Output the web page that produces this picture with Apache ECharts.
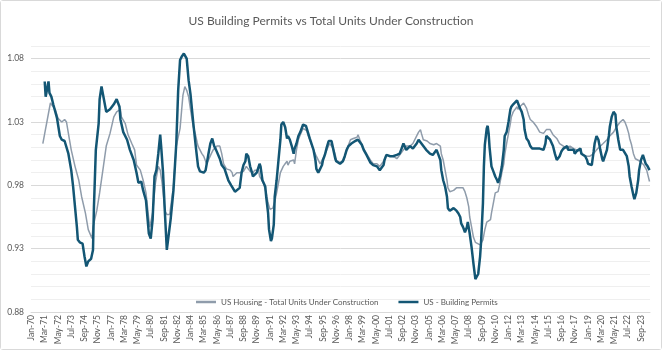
<!DOCTYPE html>
<html>
<head>
<meta charset="utf-8">
<script src="https://cdn.jsdelivr.net/npm/echarts@6/dist/echarts.min.js"></script>
<style>
  html, body { margin: 0; padding: 0; background: #fff; }
  #chart { width: 662px; height: 350px; box-sizing: border-box; border: 1px solid #d9d9d9; border-radius: 3px; }
</style>
</head>
<body>
<div id="chart"></div>
<script>
// monthly categories Jan-70 .. Jun-24
const monthNames = ['Jan', 'Feb', 'Mar', 'Apr', 'May', 'Jun', 'Jul', 'Aug', 'Sep', 'Oct', 'Nov', 'Dec'];
const firstYear = 1970;
const monthCount = 654;
const categories = [];
for (let i = 0; i < monthCount; i++) {
  const y = firstYear + Math.floor(i / 12);
  categories.push(monthNames[i % 12] + '-' + String(y % 100).padStart(2, '0'));
}

// [months since Jan-70, ratio]
const permits = [
  [14, 1.062], [15, 1.050], [16, 1.051], [18, 1.062], [19, 1.053], [21, 1.050], [23, 1.044], [27, 1.033],
  [30, 1.019], [32, 1.016], [35, 1.015], [39, 1.005], [42, 0.992], [44, 0.979], [46, 0.963], [48, 0.947],
  [49, 0.937], [51, 0.935], [54, 0.934], [56, 0.924], [58, 0.916], [60, 0.920], [63, 0.922], [65, 0.929],
  [66, 0.963], [68, 1.008], [71, 1.029], [72, 1.048], [74, 1.058], [76, 1.057], [78, 1.042], [79, 1.038],
  [83, 1.040], [87, 1.044], [90, 1.048], [92, 1.049], [93, 1.042], [94, 1.032], [97, 1.022], [101, 1.016],
  [104, 1.008], [108, 1.000], [111, 0.990], [113, 0.982], [116, 0.983], [118, 0.976], [121, 0.968], [124, 0.942],
  [126, 0.938], [128, 0.953], [130, 0.987], [132, 0.992], [134, 1.005], [136, 1.020], [137, 1.011], [139, 0.990],
  [141, 0.958], [143, 0.929], [145, 0.929], [147, 0.953], [150, 0.976], [153, 1.013], [155, 1.055], [157, 1.079],
  [159, 1.082], [161, 1.084], [164, 1.080], [166, 1.063], [168, 1.052], [171, 1.029], [174, 1.008], [176, 0.995],
  [178, 0.991], [182, 0.990], [184, 0.992], [187, 1.005], [189, 1.013], [191, 1.017], [193, 1.011], [195, 1.008],
  [197, 1.007], [199, 1.001], [201, 0.996], [204, 0.993], [208, 0.984], [211, 0.980], [215, 0.975], [217, 0.974],
  [220, 0.978], [222, 0.990], [224, 0.996], [226, 0.999], [227, 1.005], [229, 1.003], [231, 0.995], [233, 0.990],
  [234, 0.987], [236, 0.988], [238, 0.990], [241, 0.997], [242, 0.995], [244, 0.984], [247, 0.979], [248, 0.971],
  [250, 0.958], [251, 0.945], [253, 0.936], [254, 0.938], [256, 0.949], [257, 0.971], [259, 0.984], [261, 1.000],
  [263, 1.016], [264, 1.028], [266, 1.030], [268, 1.026], [270, 1.017], [271, 1.019], [273, 1.016], [275, 1.011],
  [277, 1.005], [278, 1.009], [280, 1.013], [282, 1.019], [284, 1.022], [287, 1.028], [290, 1.027], [292, 1.026],
  [294, 1.017], [298, 1.008], [300, 1.000], [301, 0.993], [303, 0.990], [305, 0.993], [307, 0.996], [308, 1.000],
  [310, 1.004], [312, 1.010], [314, 1.015], [315, 1.016], [317, 1.015], [319, 1.008], [321, 1.001], [322, 0.999],
  [326, 0.997], [329, 0.999], [331, 1.003], [333, 1.008], [335, 1.011], [338, 1.013], [342, 1.015], [345, 1.016],
  [347, 1.015], [349, 1.012], [351, 1.008], [354, 1.004], [358, 0.998], [361, 0.996], [365, 0.995], [368, 0.992],
  [370, 0.993], [372, 0.996], [373, 1.000], [375, 1.004], [377, 1.005], [379, 1.003], [382, 1.003], [386, 1.004],
  [389, 1.005], [391, 1.009], [393, 1.013], [395, 1.012], [396, 1.008], [398, 1.009], [400, 1.011], [402, 1.012],
  [403, 1.009], [405, 1.011], [407, 1.013], [409, 1.016], [410, 1.015], [412, 1.013], [414, 1.011], [417, 1.008],
  [421, 1.005], [424, 1.004], [426, 1.005], [428, 1.008], [430, 1.004], [432, 1.000], [433, 0.992], [435, 0.984],
  [437, 0.979], [439, 0.971], [440, 0.962], [442, 0.960], [444, 0.960], [446, 0.962], [447, 0.962], [449, 0.960],
  [451, 0.958], [453, 0.955], [454, 0.950], [456, 0.947], [458, 0.943], [460, 0.947], [461, 0.951], [463, 0.942],
  [465, 0.931], [467, 0.918], [469, 0.906], [470, 0.906], [472, 0.910], [474, 0.924], [475, 0.935], [477, 0.966],
  [478, 0.995], [479, 1.012], [481, 1.025], [482, 1.027], [483, 1.021], [484, 1.010], [486, 0.995], [488, 0.991],
  [490, 0.987], [492, 0.984], [493, 0.982], [495, 0.987], [497, 0.995], [499, 1.008], [500, 1.019], [502, 1.022],
  [504, 1.030], [506, 1.040], [507, 1.042], [509, 1.044], [511, 1.045], [513, 1.047], [514, 1.045], [516, 1.041],
  [518, 1.038], [520, 1.032], [521, 1.024], [523, 1.017], [525, 1.015], [527, 1.011], [529, 1.009], [534, 1.009],
  [537, 1.009], [541, 1.008], [543, 1.013], [544, 1.019], [546, 1.020], [548, 1.016], [550, 1.015], [551, 1.011],
  [553, 1.005], [555, 1.000], [557, 0.999], [558, 1.003], [560, 1.007], [562, 1.009], [566, 1.011], [567, 1.008],
  [573, 1.008], [574, 1.005], [576, 1.007], [580, 1.009], [581, 1.005], [585, 1.003], [587, 1.000], [588, 0.997],
  [592, 0.996], [594, 1.007], [595, 1.013], [597, 1.019], [599, 1.016], [601, 1.008], [603, 1.001], [604, 0.999],
  [606, 1.000], [608, 1.008], [610, 1.019], [611, 1.026], [613, 1.034], [615, 1.038], [617, 1.036], [618, 1.026],
  [620, 1.016], [622, 1.008], [625, 1.008], [627, 1.008], [629, 1.003], [631, 0.995], [632, 0.987], [634, 0.979],
  [636, 0.972], [637, 0.969], [639, 0.974], [641, 0.984], [642, 0.992], [644, 1.000], [646, 1.004], [648, 1.003],
  [649, 0.997], [651, 0.995], [653, 0.992]
];

const underConstruction = [
  [12, 1.013], [13, 1.013], [20, 1.045], [21, 1.046], [25, 1.040], [28, 1.033], [32, 1.030], [35, 1.032],
  [37, 1.030], [39, 1.021], [42, 1.008], [46, 0.995], [50, 0.984], [53, 0.971], [57, 0.958], [60, 0.945],
  [64, 0.938], [65, 0.947], [69, 0.960], [72, 0.974], [76, 0.995], [79, 1.011], [83, 1.021], [87, 1.034],
  [90, 1.038], [94, 1.040], [95, 1.034], [99, 1.029], [102, 1.020], [106, 1.013], [109, 1.008], [111, 0.996],
  [115, 0.992], [118, 0.984], [121, 0.974], [124, 0.953], [125, 0.947], [128, 0.958], [131, 0.982], [134, 0.995],
  [136, 0.992], [138, 0.982], [141, 0.960], [143, 0.957], [146, 0.957], [150, 0.979], [153, 1.011], [157, 1.025],
  [160, 1.051], [162, 1.058], [164, 1.055], [166, 1.050], [168, 1.040], [171, 1.026], [173, 1.021], [175, 1.014],
  [176, 1.011], [178, 1.008], [180, 1.005], [182, 1.003], [185, 0.997], [187, 1.000], [190, 1.005], [192, 1.008],
  [196, 1.011], [199, 1.011], [201, 1.005], [203, 0.997], [206, 0.993], [210, 0.992], [212, 0.990], [213, 0.987],
  [217, 0.990], [220, 0.990], [224, 0.991], [227, 0.995], [231, 0.991], [234, 0.990], [236, 0.992], [240, 0.992],
  [241, 0.987], [245, 0.982], [248, 0.974], [250, 0.966], [252, 0.961], [255, 0.962], [257, 0.967], [259, 0.974],
  [261, 0.982], [263, 0.990], [266, 0.995], [268, 0.997], [270, 0.999], [271, 0.996], [273, 0.999], [277, 1.000],
  [278, 0.997], [280, 1.008], [282, 1.016], [284, 1.020], [287, 1.025], [291, 1.023], [292, 1.020], [294, 1.016],
  [298, 1.008], [301, 1.003], [305, 0.997], [308, 1.001], [312, 1.008], [315, 1.013], [319, 1.009], [321, 1.004],
  [322, 1.000], [326, 0.998], [330, 1.000], [333, 1.008], [337, 1.016], [340, 1.017], [344, 1.018], [345, 1.020],
  [347, 1.016], [351, 1.009], [354, 1.005], [358, 1.000], [361, 0.997], [365, 0.997], [368, 0.995], [372, 0.999],
  [375, 1.004], [379, 1.003], [382, 1.003], [386, 1.001], [389, 1.004], [393, 1.008], [396, 1.011], [400, 1.011],
  [403, 1.013], [407, 1.019], [409, 1.022], [411, 1.024], [412, 1.021], [414, 1.016], [418, 1.015], [421, 1.013],
  [425, 1.012], [428, 1.013], [432, 1.011], [433, 1.005], [435, 1.000], [437, 0.992], [439, 0.984], [440, 0.978],
  [442, 0.975], [446, 0.976], [449, 0.978], [453, 0.978], [456, 0.978], [458, 0.975], [460, 0.970], [462, 0.963],
  [463, 0.955], [465, 0.947], [467, 0.939], [469, 0.935], [470, 0.934], [474, 0.933], [476, 0.934], [477, 0.937],
  [479, 0.945], [481, 0.951], [483, 0.950], [485, 0.953], [486, 0.958], [488, 0.966], [490, 0.974], [493, 0.975],
  [495, 0.982], [497, 0.990], [499, 0.997], [500, 1.004], [502, 1.013], [504, 1.021], [506, 1.029], [507, 1.034],
  [509, 1.038], [513, 1.042], [514, 1.040], [516, 1.042], [520, 1.045], [521, 1.044], [523, 1.041], [525, 1.036],
  [527, 1.032], [530, 1.030], [534, 1.026], [537, 1.022], [541, 1.021], [544, 1.024], [548, 1.024], [551, 1.020],
  [555, 1.017], [558, 1.013], [562, 1.011], [566, 1.009], [569, 1.011], [573, 1.009], [576, 1.008], [580, 1.007],
  [583, 1.004], [587, 1.003], [590, 1.003], [594, 1.005], [597, 1.008], [601, 1.011], [604, 1.013], [608, 1.016],
  [611, 1.019], [615, 1.022], [618, 1.026], [622, 1.030], [625, 1.032], [627, 1.030], [629, 1.026], [631, 1.021],
  [632, 1.017], [634, 1.012], [636, 1.005], [638, 1.001], [639, 1.000], [643, 0.999], [647, 0.996], [650, 0.992],
  [653, 0.983]
];

const yMin = 0.88;
const yMax = 1.09;
const yMajor = 0.05;

const toSeries = (rows) => rows.map(([m, v]) => [categories[m], v]);

const chart = echarts.init(document.getElementById('chart'));
const font = 'Lato, "Noto Sans", sans-serif';

chart.setOption({
  backgroundColor: '#fff',
  animation: false,
  title: {
    text: 'US Building Permits vs Total Units Under Construction',
    left: 'center',
    top: 9,
    textStyle: { fontFamily: font, fontSize: 12, fontWeight: 'normal', color: '#595959' }
  },
  legend: {
    left: 190,
    top: 292,
    icon: 'rect',
    itemWidth: 20,
    itemHeight: 2.5,
    itemGap: 20,
    textStyle: { fontFamily: font, fontSize: 8, color: '#595959' },
    data: ['US Housing - Total Units Under Construction', 'US - Building Permits']
  },
  grid: { left: 30, right: 11, top: 45, bottom: 37 },
  xAxis: {
    type: 'category',
    data: categories,
    boundaryGap: true,
    axisLine: { lineStyle: { color: '#d9d9d9' } },
    axisTick: { show: false },
    axisLabel: {
      interval: 13,
      rotate: 90,
      margin: 3,
      fontFamily: font,
      fontSize: 8.5,
      color: '#595959'
    },
    splitLine: { show: false }
  },
  yAxis: {
    type: 'value',
    min: yMin,
    max: yMax,
    interval: 0.01,
    axisLine: { show: false },
    axisTick: { show: false },
    axisLabel: {
      margin: 7,
      fontFamily: font,
      fontSize: 8.5,
      color: '#595959',
      formatter: (value) => {
        const k = (value - yMin) / yMajor;
        return Math.abs(k - Math.round(k)) < 1e-6 && value < yMax - 0.005 ? value.toFixed(2) : '';
      }
    },
    splitLine: {
      lineStyle: { color: ['#d9d9d9', '#efefef', '#efefef', '#efefef', '#efefef'], width: 1 }
    }
  },
  series: [
    {
      name: 'US Housing - Total Units Under Construction',
      type: 'line',
      symbol: 'none',
      data: toSeries(underConstruction),
      lineStyle: { color: '#8f9cab', width: 1.5 },
      itemStyle: { color: '#8f9cab' },
      z: 2
    },
    {
      name: 'US - Building Permits',
      type: 'line',
      symbol: 'none',
      data: toSeries(permits),
      lineStyle: { color: '#135674', width: 2.5 },
      itemStyle: { color: '#135674' },
      z: 3
    }
  ]
});
</script>
</body>
</html>
